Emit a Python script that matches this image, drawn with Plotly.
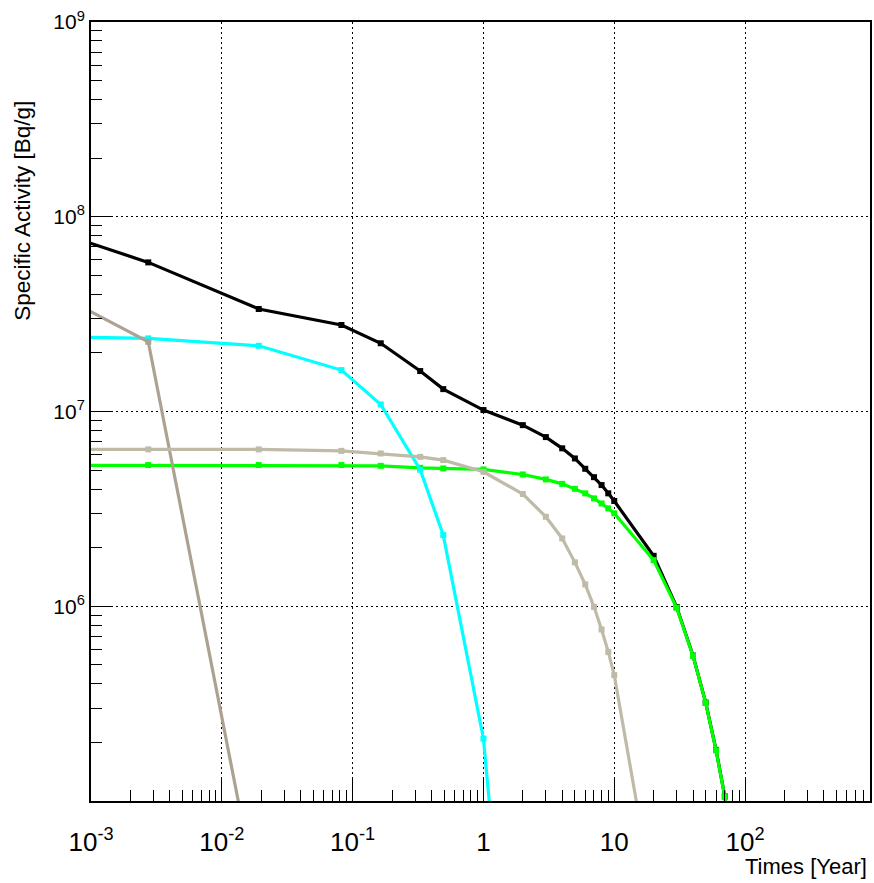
import plotly.graph_objects as go

# Time points in years (first point ~5 min after start, then 1d, 7d, 30d, 60d, 120d, 180d, 1y ...)
times = [1e-5, 0.00274, 0.01916, 0.0821, 0.164, 0.3285, 0.493, 1, 2, 3, 4, 5, 6, 7, 8, 9, 10, 20, 30, 40, 50, 60, 70, 80]

total = [2.04e8, 5.83e7, 3.36e7, 2.78e7, 2.24e7, 1.613e7, 1.303e7, 1.017e7, 8.51e6, 7.39e6, 6.47e6,
         5.74e6, 5.08e6, 4.60e6, 4.19e6, 3.80e6, 3.47e6, 1.815e6, 9.9e5, 5.58e5, 3.2e5, 1.83e5, 1.055e5, 6.0e4]
green = [5.31e6, 5.31e6, 5.31e6, 5.31e6, 5.26e6, 5.14e6, 5.10e6, 5.04e6, 4.75e6, 4.48e6, 4.25e6,
         4.01e6, 3.80e6, 3.58e6, 3.37e6, 3.18e6, 3.00e6, 1.725e6, 9.82e5, 5.56e5, 3.19e5, 1.82e5, 1.05e5, 5.99e4]
cyan_t = times[:9]
cyan = [2.54e7, 2.374e7, 2.175e7, 1.632e7, 1.087e7, 5.02e6, 2.32e6, 2.09e5, 1.38e3]
tan_t = times[:3]
tan = [1.65e8, 2.28e7, 2.9e4]
gray_t = times[:18]
gray = [6.39e6, 6.39e6, 6.39e6, 6.28e6, 6.09e6, 5.85e6, 5.63e6, 4.90e6, 3.77e6, 2.88e6, 2.23e6,
        1.68e6, 1.294e6, 9.93e5, 7.60e5, 5.83e5, 4.43e5, 3.1e4]

x_major = [1e-3, 1e-2, 1e-1, 1, 10, 100]
x_major_text = ["10<sup>-3</sup>", "10<sup>-2</sup>", "10<sup>-1</sup>", "1", "10", "10<sup>2</sup>"]
y_major = [1e6, 1e7, 1e8, 1e9]
y_major_text = ["10<sup>6</sup>", "10<sup>7</sup>", "10<sup>8</sup>", "10<sup>9</sup>"]

x_minor = [m * 10.0 ** e for e in range(-3, 3) for m in range(2, 10)]
y_minor = [m * 10.0 ** e for e in range(5, 9) for m in range(2, 10)]

SANS = "Liberation Sans, Arial, Helvetica, sans-serif"

fig = go.Figure()

def add(x, y, color):
    fig.add_trace(go.Scatter(x=x, y=y, mode="lines+markers",
                             line=dict(color=color, width=3.2),
                             marker=dict(symbol="square", size=6, color=color),
                             showlegend=False, hoverinfo="x+y"))

add(times, total, "#000000")
add(times, green, "#00ff00")
add(cyan_t, cyan, "#00ffff")
add(tan_t, tan, "#ada291")
add(gray_t, gray, "#bfbba8")

fig.update_layout(
    width=874, height=883,
    margin=dict(l=91, r=2, t=22, b=82),
    paper_bgcolor="white", plot_bgcolor="white",
    showlegend=False,
)

fig.update_xaxes(
    type="log", range=[-3, 2.955],
    tickmode="array", tickvals=x_major, ticktext=x_major_text,
    ticks="inside", ticklen=22, tickwidth=1, tickcolor="black",
    ticklabelstandoff=17,
    showgrid=True, gridcolor="black", gridwidth=1, griddash="2px,3px",
    showline=True, linecolor="black", linewidth=2, mirror=True,
    tickfont=dict(family=SANS, size=26, color="black"),
    minor=dict(tickmode="array", tickvals=x_minor, ticks="inside", ticklen=11,
               tickwidth=1, tickcolor="black", showgrid=False),
)
fig.update_yaxes(
    type="log", range=[5.0, 9.0],
    tickmode="array", tickvals=y_major, ticktext=y_major_text,
    ticks="inside", ticklen=22, tickwidth=1, tickcolor="black",
    showgrid=True, gridcolor="black", gridwidth=1, griddash="2px,3px",
    showline=True, linecolor="black", linewidth=2, mirror=True,
    tickfont=dict(family=SANS, size=21, color="black"),
    minor=dict(tickmode="array", tickvals=y_minor, ticks="inside", ticklen=11,
               tickwidth=1, tickcolor="black", showgrid=False),
)

fig.add_annotation(text="Times [Year]", xref="paper", yref="paper",
                   x=(871 - 91) / 781, y=(800.7 - 866) / 778.7,
                   xanchor="right", yanchor="middle", showarrow=False,
                   font=dict(family=SANS, size=22, color="black"))
fig.add_annotation(text="Specific Activity [Bq/g]", xref="paper", yref="paper",
                   x=(21.5 - 91) / 781, y=(800.7 - 211) / 778.7,
                   xanchor="center", yanchor="middle", textangle=-90, showarrow=False,
                   font=dict(family=SANS, size=22.5, color="black"))

fig.write_html(
    "out.html",
    config={"displayModeBar": False},
    post_script="document.body.style.margin='0px';document.body.style.padding='0px';"
                "document.documentElement.style.overflow='hidden';",
)
